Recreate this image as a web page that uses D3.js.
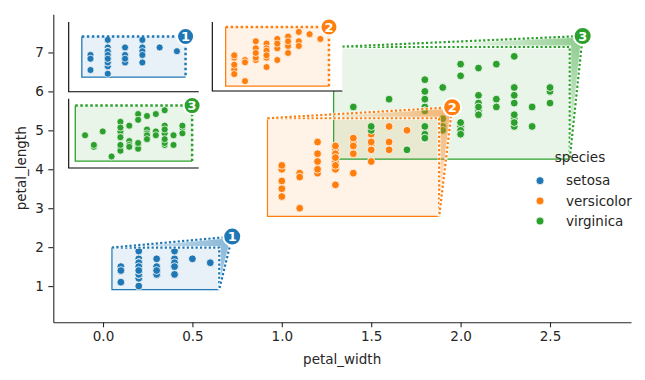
<!DOCTYPE html>
<html><head><meta charset="utf-8">
<script src="https://cdn.jsdelivr.net/npm/d3@7"></script>
<style>body{margin:0;background:#fff}svg{display:block}text{font-family:"DejaVu Sans",sans-serif}</style>
</head><body><svg id="c" width="645" height="380"></svg>
<script>
const species = ["setosa","versicolor","virginica"];
const colors = ["#1f77b4","#ff7f0e","#2ca02c"];
const setosaPetalLength = [1.4,1.4,1.3,1.5,1.4,1.7,1.4,1.5,1.4,1.5,1.5,1.6,1.4,1.1,1.2,1.5,1.3,1.4,1.7,1.5,1.7,1.5,1.0,1.7,1.9,1.6,1.6,1.5,1.4,1.6,1.6,1.5,1.5,1.4,1.5,1.2,1.3,1.4,1.3,1.5,1.3,1.3,1.3,1.6,1.9,1.4,1.6,1.4,1.5,1.4];
const setosaPetalWidth = [0.2,0.2,0.2,0.2,0.2,0.4,0.3,0.2,0.2,0.1,0.2,0.2,0.1,0.1,0.2,0.4,0.4,0.3,0.3,0.3,0.2,0.4,0.2,0.5,0.2,0.2,0.4,0.2,0.2,0.2,0.2,0.4,0.1,0.2,0.2,0.2,0.2,0.1,0.2,0.2,0.3,0.3,0.2,0.6,0.4,0.3,0.2,0.2,0.2,0.2];
const versicolorPetalLength = [4.7,4.5,4.9,4.0,4.6,4.5,4.7,3.3,4.6,3.9,3.5,4.2,4.0,4.7,3.6,4.4,4.5,4.1,4.5,3.9,4.8,4.0,4.9,4.7,4.3,4.4,4.8,5.0,4.5,3.5,3.8,3.7,3.9,5.1,4.5,4.5,4.7,4.4,4.1,4.0,4.4,4.6,4.0,3.3,4.2,4.2,4.2,4.3,3.0,4.1];
const versicolorPetalWidth = [1.4,1.5,1.5,1.3,1.5,1.3,1.6,1.0,1.3,1.4,1.0,1.5,1.0,1.4,1.3,1.4,1.5,1.0,1.5,1.1,1.8,1.3,1.5,1.2,1.3,1.4,1.4,1.7,1.5,1.0,1.1,1.0,1.2,1.6,1.5,1.6,1.5,1.3,1.3,1.3,1.2,1.4,1.2,1.0,1.3,1.2,1.3,1.3,1.1,1.3];
const virginicaPetalLength = [6.0,5.1,5.9,5.6,5.8,6.6,4.5,6.3,5.8,6.1,5.1,5.3,5.5,5.0,5.1,5.3,5.5,6.7,6.9,5.0,5.7,4.9,6.7,4.9,5.7,6.0,4.8,4.9,5.6,5.8,6.1,6.4,5.6,5.1,5.6,6.1,5.6,5.5,4.8,5.4,5.6,5.1,5.1,5.9,5.7,5.2,5.0,5.2,5.4,5.1];
const virginicaPetalWidth = [2.5,1.9,2.1,1.8,2.2,2.1,1.7,1.8,1.8,2.5,2.0,1.9,2.1,2.0,2.4,2.3,1.8,2.2,2.3,1.5,2.3,2.0,2.0,1.8,2.1,1.8,1.8,1.8,2.1,1.6,1.9,2.0,2.2,1.5,1.4,2.3,2.4,1.8,1.8,2.1,2.4,2.3,1.9,2.3,2.5,2.3,1.9,2.0,2.3,1.8];
const xTicks = [0,0.5,1.0,1.5,2.0,2.5];
const yTicks = [1,2,3,4,5,6,7];
const badgeLabels = ["1","2","3"];

const lengths = [setosaPetalLength, versicolorPetalLength, virginicaPetalLength];
const widths = [setosaPetalWidth, versicolorPetalWidth, virginicaPetalWidth];

const svg = d3.select("#c");
const ink = "#262626";
const M = {l:53.3, r:631, t:14.3, b:322.3};
const x = d3.scaleLinear().domain([-0.278, 2.953]).range([M.l, M.r]);
const y = d3.scaleLinear().domain([0.07, 7.98]).range([M.b, M.t]);
const sx = (M.r-M.l)/(x.domain()[1]-x.domain()[0]);
const sy = (M.b-M.t)/(y.domain()[1]-y.domain()[0]);

const series = species.map((s,i)=>{
  const pts = widths[i].map((w,j)=>({x:w, y:lengths[i][j]}));
  const x0=d3.min(widths[i]), x1=d3.max(widths[i]), y0=d3.min(lengths[i]), y1=d3.max(lengths[i]);
  const px=(x1-x0)*0.1, py=(y1-y0)*0.1;
  return {name:s, color:colors[i], pts, reg:{x0:x0-px, x1:x1+px, y0:y0-py, y1:y1+py}, label:badgeLabels[i]};
});

// axes
const gx = svg.append("g").attr("transform",`translate(0,${M.b})`)
  .call(d3.axisBottom(x).tickValues(xTicks).tickFormat(d3.format(".1f")).tickSize(5).tickPadding(4.5).tickSizeOuter(0));
const gy = svg.append("g").attr("transform",`translate(${M.l},0)`)
  .call(d3.axisLeft(y).tickValues(yTicks).tickFormat(d3.format("d")).tickSize(5).tickPadding(4.5).tickSizeOuter(0));
[gx,gy].forEach(g=>{
  g.select(".domain").attr("stroke",ink).attr("stroke-width",1.1);
  g.selectAll(".tick line").attr("stroke",ink).attr("stroke-width",1.1);
  g.selectAll(".tick text").attr("fill",ink).style("font-size","13.5px").style("font-family","DejaVu Sans");
});
svg.append("text").attr("x",(M.l+M.r)/2).attr("y",364).attr("text-anchor","middle")
  .style("font-size","13.5px").attr("fill",ink).text("petal_width");
svg.append("text").attr("transform",`translate(26,${(M.t+M.b)/2}) rotate(-90)`).attr("text-anchor","middle")
  .style("font-size","13.5px").attr("fill",ink).text("petal_length");

const defs = svg.append("defs");
const off = {dx:13, dy:-11};

const main = svg.append("g");
series.forEach(s=>{
  const r=s.reg, X0=x(r.x0), X1=x(r.x1), YT=y(r.y1), YB=y(r.y0);
  main.append("rect").attr("x",X0).attr("y",YT).attr("width",X1-X0).attr("height",YB-YT)
    .attr("fill",s.color).attr("fill-opacity",0.1);
  main.append("path").attr("d",`M${X0},${YT}L${X0},${YB}L${X1},${YB}`).attr("fill","none")
    .attr("stroke",s.color).attr("stroke-width",1.2);
});
series.forEach(s=>{
  main.append("g").selectAll("circle").data(s.pts).join("circle")
    .attr("cx",d=>x(d.x)).attr("cy",d=>y(d.y)).attr("r",3.9)
    .attr("fill",s.color).attr("stroke","#fff").attr("stroke-width",0.8);
});
function dotted(g, d, color, w, dash){
  g.append("path").attr("d",d).attr("fill","none").attr("stroke","#fff").attr("stroke-width",w+0.8).attr("stroke-opacity",0.9);
  g.append("path").attr("d",d).attr("fill","none").attr("stroke",color).attr("stroke-width",w).attr("stroke-dasharray",dash);
}
function badge(g, cx, cy, color, label, r){
  g.append("circle").attr("cx",cx).attr("cy",cy).attr("r",r).attr("fill",color).attr("stroke","#fff").attr("stroke-width",2);
  g.append("text").attr("x",cx).attr("y",cy).attr("dy","0.37em").attr("text-anchor","middle")
    .attr("fill","#fff").style("font-size","13px").style("font-weight","bold").text(label);
}
series.forEach((s,i)=>{
  const r=s.reg, X0=x(r.x0), X1=x(r.x1), YT=y(r.y1), YB=y(r.y0);
  const Lx=X1+off.dx, Ly=YT+off.dy;
  const gr = defs.append("radialGradient").attr("id","gr"+i).attr("gradientUnits","userSpaceOnUse")
    .attr("cx",Lx).attr("cy",Ly).attr("r",130);
  gr.append("stop").attr("offset",0).attr("stop-color",s.color).attr("stop-opacity",0.55);
  gr.append("stop").attr("offset",1).attr("stop-color",s.color).attr("stop-opacity",0.04);
  main.append("path").attr("d",`M${X0},${YT}L${Lx},${Ly}L${X1},${YB}L${X1},${YT}Z`).attr("fill",`url(#gr${i})`);
  dotted(main, `M${X0},${YT}L${X1},${YT}L${X1},${YB}`, s.color, 2.2, "2.2,2.2");
  dotted(main, `M${X0},${YT}L${Lx},${Ly}L${X1},${YB}`, s.color, 2.2, "2.2,2.2");
  badge(main, Lx, Ly, s.color, s.label, 9);
});

// insets
const insetBoxes = [{x:68.7,y:22,w:130,h:69.7},{x:212.3,y:22,w:130,h:69},{x:68.7,y:98.7,w:130,h:69.3}];
const insetZoom = [0.967,0.602,0.495];
series.forEach((s,i)=>{
  const b=insetBoxes[i], k=insetZoom[i], r=s.reg;
  const cx=(r.x0+r.x1)/2, cy=(r.y0+r.y1)/2;
  const hx=b.w/2/(k*sx), hy=b.h/2/(k*sy);
  const xi=d3.scaleLinear().domain([cx-hx,cx+hx]).range([b.x,b.x+b.w]);
  const yi=d3.scaleLinear().domain([cy-hy,cy+hy]).range([b.y+b.h,b.y]);
  defs.append("clipPath").attr("id","cp"+i).append("rect").attr("x",b.x).attr("y",b.y).attr("width",b.w).attr("height",b.h);
  const g=svg.append("g");
  g.append("rect").attr("x",b.x).attr("y",b.y).attr("width",b.w).attr("height",b.h).attr("fill","#fff");
  const gc=g.append("g").attr("clip-path",`url(#cp${i})`);
  const X0=xi(r.x0), X1=xi(r.x1), YT=yi(r.y1), YB=yi(r.y0);
  gc.append("rect").attr("x",X0).attr("y",YT).attr("width",X1-X0).attr("height",YB-YT).attr("fill",s.color).attr("fill-opacity",0.1);
  gc.append("path").attr("d",`M${X0},${YT}L${X0},${YB}L${X1},${YB}`).attr("fill","none").attr("stroke",s.color).attr("stroke-width",1.3);
  gc.append("g").selectAll("circle").data(s.pts).join("circle")
    .attr("cx",d=>xi(d.x)).attr("cy",d=>yi(d.y)).attr("r",3.5)
    .attr("fill",s.color).attr("stroke","#fff").attr("stroke-width",0.7);
  gc.append("path").attr("d",`M${X0},${YT}L${X1},${YT}L${X1},${YB}`).attr("fill","none")
    .attr("stroke",s.color).attr("stroke-width",2.5).attr("stroke-dasharray","2.5,2.5");
  g.append("path").attr("d",`M${b.x},${b.y}L${b.x},${b.y+b.h}L${b.x+b.w},${b.y+b.h}`).attr("fill","none")
    .attr("stroke","#000").attr("stroke-width",1.1);
  badge(g, X1, YT, s.color, s.label, 8.5);
});

// legend
const lg = svg.append("g");
lg.append("text").attr("x",580).attr("y",162).attr("text-anchor","middle").style("font-size","13.5px").attr("fill",ink).text("species");
series.forEach((s,i)=>{
  const yy = 180.7 + i*20.2;
  lg.append("circle").attr("cx",540).attr("cy",yy).attr("r",4).attr("fill",s.color).attr("stroke","#fff").attr("stroke-width",0.8);
  lg.append("text").attr("x",566).attr("y",yy).attr("dy","0.35em").style("font-size","13.5px").attr("fill",ink).text(s.name);
});
</script></body></html>
